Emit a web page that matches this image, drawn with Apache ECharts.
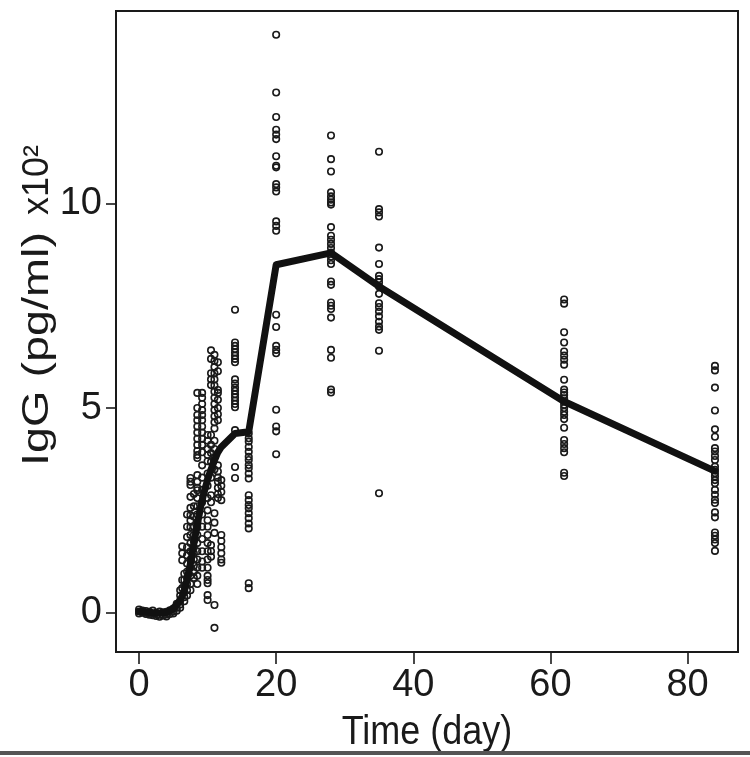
<!DOCTYPE html>
<html>
<head>
<meta charset="utf-8">
<script src="https://cdn.jsdelivr.net/npm/echarts@6/dist/echarts.min.js"></script>
<style>
  html, body { margin: 0; padding: 0; background: #fff; }
  #chart { width: 750px; height: 757px; }
</style>
</head>
<body>
<div id="chart"></div>
<script>
// ---- data ----
const xTicks = [0, 20, 40, 60, 80];
const yTicks = [0, 5, 10];

// observation days (x) and the observed IgG values (x10^2 pg/ml) at each day
const obsDays = [0, 0.5, 1, 1.5, 2, 2.5, 3, 3.5, 4, 4.5, 5, 5.5, 6, 6.3, 6.6, 7, 7.5, 8, 8.5, 9.2, 10, 10.5, 11, 11.5, 12, 14, 16, 20, 28, 35, 62, 84];
const obsValues = [
  [0.08, 0.03, -0.02],
  [0.05, 0.0],
  [0.04, -0.03, 0.0],
  [0.02, -0.05],
  [0.05, -0.02, -0.06],
  [0.0, -0.08],
  [0.03, -0.05, -0.1],
  [0.01, -0.07],
  [0.02, -0.04, -0.09],
  [0.06, -0.03],
  [0.1, 0.03, -0.02],
  [0.22, 0.12, 0.05],
  [0.55, 0.42, 0.3, 0.2, 0.12],
  [1.62, 1.45, 1.28, 0.8, 0.6],
  [0.95, 0.8, 0.65, 0.5, 0.38, 0.28],
  [2.4, 2.1, 1.85, 1.6, 1.4, 1.2, 1.0, 0.85, 0.7, 0.55, 0.42],
  [3.29, 3.2, 3.12, 2.83, 2.56, 2.38, 2.25, 2.09, 1.9, 1.7, 1.5, 1.3, 1.1, 0.9, 0.7, 0.55],
  [2.9, 2.6, 2.35, 2.1, 1.9, 1.75, 1.6, 1.45, 1.3, 1.15, 1.0, 0.85],
  [5.37, 5.0, 4.83, 4.7, 4.55, 4.4, 4.25, 4.1, 3.95, 3.85, 3.78, 3.36, 3.2, 3.05, 2.99, 2.8, 2.6, 2.4, 2.2, 2.09, 1.9, 1.7, 1.5, 1.3, 1.1, 0.9, 0.7],
  [5.37, 5.25, 5.1, 4.95, 4.83, 4.7, 4.55, 4.4, 4.25, 4.1, 3.92, 3.6, 3.3, 3.0, 2.7, 2.4, 2.1, 1.8, 1.5, 1.25, 1.1],
  [4.34, 4.2, 4.0, 3.85, 3.7, 3.4, 3.1, 2.8, 2.5, 2.26, 2.1, 1.9, 1.7, 1.5, 1.3, 1.1, 0.9, 0.8, 0.72, 0.43, 0.31],
  [6.41, 6.2, 5.85, 5.7, 5.56, 4.34, 4.1, 3.9, 3.68, 3.3, 2.87, 2.7, 1.65, 1.5, 1.37],
  [6.3, 6.15, 6.0, 5.85, 5.7, 5.55, 5.4, 5.25, 5.1, 4.95, 4.8, 4.65, 4.5, 4.2, 4.0, 3.8, 3.5, 2.43, 2.2, 1.95, 0.19, -0.37],
  [6.12, 5.9, 5.44, 5.37, 5.2, 5.0, 4.85, 4.7, 3.6, 3.45, 3.3, 3.2, 3.05, 2.9, 2.8],
  [3.24, 3.1, 2.95, 2.75, 1.9, 1.75, 1.6, 1.45, 1.3, 1.22],
  [7.40, 6.6, 6.52, 6.44, 6.36, 6.28, 6.2, 6.12, 5.7, 5.6, 5.5, 5.42, 5.34, 5.26, 5.18, 5.1, 5.02, 4.46, 3.56, 3.29],
  [4.38, 4.26, 4.18, 4.05, 3.93, 3.81, 3.73, 3.61, 3.53, 3.40, 3.28, 2.87, 2.75, 2.63, 2.55, 2.43, 2.31, 2.18, 2.06, 0.72, 0.60],
  [14.12, 12.71, 12.11, 11.80, 11.68, 11.57, 11.15, 10.92, 10.88, 10.47, 10.39, 10.29, 9.56, 9.45, 9.33, 7.28, 6.98, 6.52, 6.42, 6.34, 4.96, 4.55, 4.43, 3.87],
  [11.66, 11.08, 10.78, 10.27, 10.17, 10.09, 10.02, 9.97, 9.42, 9.21, 9.11, 9.01, 8.91, 8.80, 8.70, 8.61, 8.52, 8.09, 8.01, 7.58, 7.50, 7.42, 7.21, 6.42, 6.23, 5.45, 5.38],
  [11.26, 9.86, 9.78, 9.68, 8.92, 8.52, 8.23, 8.15, 8.07, 7.97, 7.79, 7.56, 7.47, 7.36, 7.24, 7.11, 6.99, 6.91, 6.40, 2.92],
  [7.65, 7.55, 6.85, 6.60, 6.38, 6.28, 6.18, 6.06, 5.69, 5.45, 5.38, 5.32, 5.24, 5.16, 5.08, 5.00, 4.91, 4.83, 4.73, 4.52, 4.22, 4.12, 4.02, 3.92, 3.42, 3.34],
  [6.03, 5.92, 5.50, 4.94, 4.48, 4.30, 4.02, 3.94, 3.83, 3.73, 3.57, 3.49, 3.41, 3.33, 3.24, 3.16, 3.00, 2.88, 2.76, 2.68, 2.45, 2.33, 1.96, 1.88, 1.79, 1.70, 1.51]
];

// mean curve
const meanDays = [0, 1, 2, 3, 4, 5, 6, 6.5, 7, 7.5, 8, 8.5, 9, 9.5, 10, 10.5, 11, 11.5, 12, 14, 16, 20, 28, 35, 62, 84];
const meanValues = [0.03, 0.02, 0.0, -0.01, 0.01, 0.1, 0.3, 0.48, 0.8, 1.2, 1.7, 2.15, 2.6, 2.95, 3.25, 3.5, 3.72, 3.92, 4.05, 4.38, 4.42, 8.5, 8.79, 7.97, 5.16, 3.46];

// ---- build ----
const scatterData = [];
obsDays.forEach((d, i) => obsValues[i].forEach(v => scatterData.push([d, v])));
const lineData = meanDays.map((d, i) => [d, meanValues[i]]);

const ink = '#1a1a1a';
const fontFamily = '"Liberation Sans", Arial, Helvetica, sans-serif';

const chart = echarts.init(document.getElementById('chart'), null, { renderer: 'canvas' });
chart.setOption({
  animation: false,
  backgroundColor: '#fff',
  grid: {
    left: 116, right: 12, top: 11, bottom: 105,
    show: true, borderColor: ink, borderWidth: 2, backgroundColor: 'transparent'
  },
  xAxis: {
    type: 'value', min: -3.36, max: 87.36, position: 'bottom',
    axisLine: { show: false, onZero: false },
    splitLine: { show: false },
    axisTick: { show: true, customValues: xTicks, length: 12, inside: false, lineStyle: { color: ink, width: 1.6 } },
    axisLabel: { customValues: xTicks, color: ink, fontSize: 38, fontFamily: fontFamily, margin: 15 }
  },
  yAxis: {
    type: 'value', min: -0.96, max: 14.70, position: 'left',
    axisLine: { show: false, onZero: false },
    splitLine: { show: false },
    axisTick: { show: true, customValues: yTicks, length: 10, inside: false, lineStyle: { color: ink, width: 1.6 } },
    axisLabel: { customValues: yTicks, color: ink, fontSize: 38, fontFamily: fontFamily, margin: 14 }
  },
  series: [
    {
      type: 'scatter',
      data: scatterData,
      symbol: 'circle',
      symbolSize: 6.5,
      itemStyle: { color: 'rgba(255,255,255,0)', borderColor: ink, borderWidth: 1.6, opacity: 1 },
      z: 2,
      silent: true
    },
    {
      type: 'line',
      data: lineData,
      showSymbol: false,
      symbol: 'none',
      lineStyle: { color: '#111', width: 7, cap: 'round', join: 'round' },
      z: 3,
      silent: true
    }
  ],
  graphic: [
    {
      type: 'text', x: 38, y: 349, rotation: Math.PI / 2, scaleX: 1.3,
      style: { text: 'IgG (pg/ml)', fontSize: 36, fontFamily: fontFamily, fill: ink, textAlign: 'center', textVerticalAlign: 'middle' }
    },
    {
      type: 'text', x: 38, y: 180, rotation: Math.PI / 2,
      style: { text: 'x10²', fontSize: 36, fontFamily: fontFamily, fill: ink, textAlign: 'center', textVerticalAlign: 'middle' }
    },
    {
      type: 'text', x: 427, y: 733, scaleY: 1.15,
      style: { text: 'Time (day)', fontSize: 36, fontFamily: fontFamily, fill: ink, textAlign: 'center', textVerticalAlign: 'middle' }
    },
    {
      type: 'rect', shape: { x: 0, y: 751, width: 750, height: 4 },
      style: { fill: '#555' }
    }
  ]
});
</script>
</body>
</html>
